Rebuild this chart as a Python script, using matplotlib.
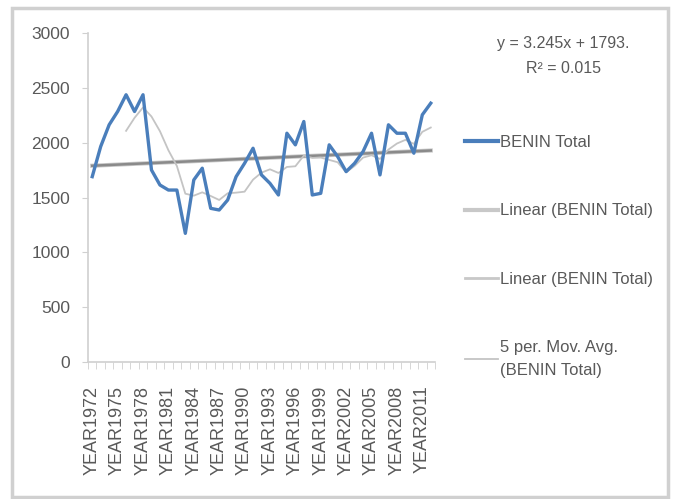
#!/usr/bin/env python3
"""BENIN Total by year, with linear trend lines and a 5-period moving average."""

import matplotlib

matplotlib.use("Agg")
import matplotlib.pyplot as plt
import numpy as np
from matplotlib.patches import Rectangle

# values
years = np.arange(1972, 2013)
benin_total = np.array([
    1690, 1965, 2163, 2284, 2437, 2284, 2437, 1751, 1614, 1568,
    1568, 1173, 1660, 1767, 1401, 1386, 1477, 1690, 1812, 1949,
    1706, 1629, 1523, 2086, 1980, 2193, 1523, 1538, 1980, 1873,
    1736, 1812, 1919, 2086, 1706, 2163, 2086, 2086, 1904, 2254,
    2360,
])
tick_years = years[::3]
equation_text = "y = 3.245x + 1793.\nR² = 0.015"

TEXT = "#595959"
plt.rcParams["font.family"] = ["Liberation Sans", "DejaVu Sans"]


def main():
    x = np.arange(len(years))

    # trend lines as Excel builds them (x = 1..n)
    slope, icpt = np.polyfit(x + 1, benin_total, 1)
    trend = slope * (x + 1) + icpt
    ma = np.convolve(benin_total, np.ones(5) / 5, mode="valid")

    fig = plt.figure(figsize=(6.73, 4.99), dpi=100)
    fig.patches.append(Rectangle((12 / 673, 2 / 499), 656 / 673, 489 / 499,
                                 transform=fig.transFigure, fill=False,
                                 edgecolor="#d0d0d0", linewidth=2.5))
    ax = fig.add_axes([88 / 673, 137 / 499, 347 / 673, 329 / 499])

    ax.plot(x, benin_total, color="#4a7ebb", linewidth=2.4, label="BENIN Total", zorder=5)
    ax.plot(x, trend, color="#c8c8c8", linewidth=3.0, label="Linear (BENIN Total)", zorder=3)
    ax.plot(x, trend, color="#8a8a8a", linewidth=1.8, zorder=4)
    ax.plot([], [], color="#c8c8c8", linewidth=2.0, label="Linear (BENIN Total)")
    ax.plot(x[4:], ma, color="#c4c4c4", linewidth=1.3,
            label="5 per. Mov. Avg.\n(BENIN Total)", zorder=4)

    ax.set_xlim(-0.5, len(years) - 0.5)
    ax.set_ylim(0, 3000)
    ax.set_yticks(np.arange(0, 3001, 500))
    ax.set_xticks(x[::3])
    ax.set_xticklabels([f"YEAR{y}" for y in tick_years], rotation=90)
    ax.set_xticks(np.arange(-0.5, len(years)), minor=True)

    for side in ("top", "right"):
        ax.spines[side].set_visible(False)
    for side in ("left", "bottom"):
        ax.spines[side].set_color("#d0d0d0")
        ax.spines[side].set_linewidth(1.2)
    ax.tick_params(axis="y", colors="#d0d0d0", labelcolor=TEXT, labelsize=12.5,
                   length=4, pad=9)
    ax.tick_params(axis="x", which="major", length=0, pad=17, labelcolor=TEXT, labelsize=13)
    ax.tick_params(axis="x", which="minor", colors="#d0d0d0", length=5)

    fig.text(563 / 673, 1 - 56 / 499, equation_text, ha="center", va="center",
             fontsize=11.5, color=TEXT, linespacing=1.8)

    leg = ax.legend(loc="upper left", bbox_to_anchor=(450 / 673, 1 - 120 / 499),
                    bbox_transform=fig.transFigure, frameon=False, fontsize=12,
                    labelspacing=3.2, handlelength=2.0, handletextpad=0.1,
                    labelcolor=TEXT)
    leg.legend_handles[0].set_linewidth(3.0)
    for t in leg.get_texts():
        t.set_linespacing(1.7)

    fig.savefig("out.png", dpi=100)
    plt.close(fig)


if __name__ == "__main__":
    main()
